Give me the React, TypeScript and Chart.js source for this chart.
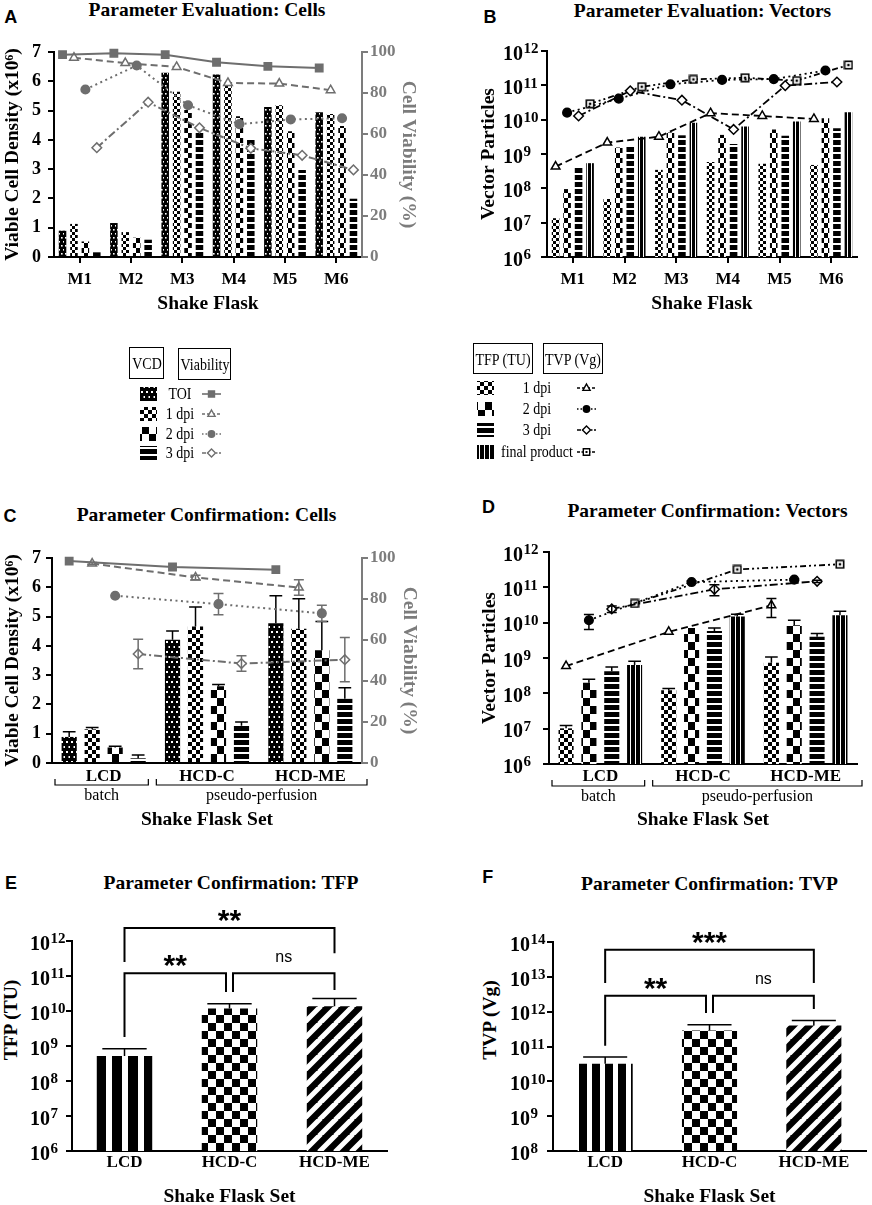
import React, { useEffect, useRef } from 'react';
import { Chart, registerables } from 'chart.js';

Chart.register(...registerables);

// ---------------- data ----------------
const FLASKS = ['M1', 'M2', 'M3', 'M4', 'M5', 'M6'];
const SETS = ['LCD', 'HCD-C', 'HCD-ME'];

// Panel A: VCD (x10^6) and viability (%)
const A_VCD_TOI = [0.9, 1.16, 6.29, 6.23, 5.12, 4.94];
const A_VCD_1DPI = [1.13, 0.85, 5.64, 5.95, 5.18, 4.88];
const A_VCD_2DPI = [0.53, 0.66, 5.02, 4.81, 4.29, 4.47];
const A_VCD_3DPI = [0.16, 0.59, 4.25, 4.0, 2.97, 1.99];
const A_VIA_TOI = [98.7, 99.4, 98.7, 95.0, 93.0, 92.2];
const A_VIA_1DPI = [97.2, 94.6, 92.7, 84.9, 84.6, 81.4];
const A_VIA_2DPI = [81.7, 93.4, 74.0, 64.8, 67.1, 67.7];
const A_VIA_3DPI = [53.3, 75.5, 63.0, 53.0, 49.6, 42.5];

// Panel B: TFP (TU) bars, TVP (Vg) lines
const B_TFP_1DPI = [1.35e7, 4.9e7, 3.45e8, 5.8e8, 5.2e8, 4.8e8];
const B_TFP_2DPI = [9.5e7, 1.55e9, 4.2e9, 3.6e9, 5.2e9, 1.1e10];
const B_TFP_3DPI = [3.9e8, 1.65e9, 3.5e9, 1.97e9, 3.4e9, 5.6e9];
const B_TFP_FINAL = [5.4e8, 3.2e9, 8.2e9, 6.3e9, 8.8e9, 1.65e10];
const B_TVP_1DPI = [4.3e8, 2.15e9, 3.2e9, 1.55e10, 1.28e10, 1.05e10];
const B_TVP_2DPI = [1.6e10, 4.1e10, 1.07e11, 1.44e11, 1.52e11, 2.7e11];
const B_TVP_3DPI = [1.28e10, 6.9e10, 3.7e10, 5.2e9, 9.8e10, 1.25e11];
const B_TVP_FINAL = [2.9e10, 9.1e10, 1.49e11, 1.66e11, 1.37e11, 3.9e11];

// Panel C: mean and SD
const C_VCD_TOI = [0.89, 4.21, 4.77];
const C_VCD_TOI_SD = [0.18, 0.3, 0.94];
const C_VCD_1DPI = [1.15, 4.66, 4.58];
const C_VCD_1DPI_SD = [0.06, 0.67, 1.03];
const C_VCD_2DPI = [0.53, 2.62, 3.85];
const C_VCD_2DPI_SD = [0.04, 0.06, 0.98];
const C_VCD_3DPI = [0.16, 1.27, 2.19];
const C_VCD_3DPI_SD = [0.11, 0.13, 0.38];
const C_VIA_TOI = [98.5, 95.6, 94.3];
const C_VIA_TOI_SD = [0, 0, 0];
const C_VIA_1DPI = [97.3, 90.5, 85.6];
const C_VIA_1DPI_SD = [0.5, 1.1, 3.8];
const C_VIA_2DPI = [81.6, 77.5, 73.0];
const C_VIA_2DPI_SD = [0, 5.2, 4.0];
const C_VIA_3DPI = [53.2, 48.5, 50.4];
const C_VIA_3DPI_SD = [7.2, 3.8, 10.8];

// Panel D: mean and SD
const D_TFP_1DPI = [1.02e7, 1.23e8, 7.3e8];
const D_TFP_1DPI_SD = [0.2e7, 0.14e8, 3.4e8];
const D_TFP_2DPI = [2.0e8, 7.1e9, 8.5e9];
const D_TFP_2DPI_SD = [0.5e8, 0, 3.2e9];
const D_TFP_3DPI = [4.2e8, 5.8e9, 4.0e9];
const D_TFP_3DPI_SD = [1.4e8, 1.3e9, 0.9e9];
const D_TFP_FINAL = [6.3e8, 1.5e10, 1.62e10];
const D_TFP_FINAL_SD = [1.8e8, 0.23e10, 0.48e10];
const D_TVP_1DPI = [5.9e8, 5.5e9, 3.1e10];
const D_TVP_1DPI_SD = [0, 0, 1.7e10];
const D_TVP_2DPI = [1.17e10, 1.41e11, 1.65e11];
const D_TVP_2DPI_SD = [0.53e10, 0.1e11, 0.1e11];
const D_TVP_3DPI = [2.45e10, 8.8e10, 1.48e11];
const D_TVP_3DPI_SD = [0.5e10, 3.0e10, 0.1e11];
const D_TVP_FINAL = [3.5e10, 3.2e11, 4.5e11];
const D_TVP_FINAL_SD = [0, 0, 0];

// Panels E and F
const E_TFP = [5.2e8, 1.17e10, 1.36e10];
const E_TFP_SD = [3.2e8, 0.45e10, 0.9e10];
const F_TVP = [3.2e10, 2.9e11, 4.0e11];
const F_TVP_SD = [1.8e10, 1.3e11, 1.6e11];

// tick exponents / ticks
const EXP_6_12 = [6, 7, 8, 9, 10, 11, 12];
const EXP_8_14 = [8, 9, 10, 11, 12, 13, 14];
const VCD_TICKS = [0, 1, 2, 3, 4, 5, 6, 7];
const VIA_TICKS = [0, 10, 20, 30, 40, 50, 60, 70, 80, 90, 100];

// group labels under C and D
const GROUPS = [
  { label: 'batch', from: 0, to: 0 },
  { label: 'pseudo-perfusion', from: 1, to: 2 },
];

// significance brackets (a, b = category indices; y values in axis units)
const E_SIG = [
  { a: 0, b: 2, y: 2.35e12, aEnd: 2.5e11, bEnd: 4.5e11, label: '**' },
  { a: 0, b: 1, y: 1.2e11, aEnd: 1.8e9, bEnd: 3.5e10, label: '**' },
  { a: 1, b: 2, y: 1.2e11, aEnd: 3.5e10, bEnd: 4.0e10, label: 'ns' },
];
const F_SIG = [
  { a: 0, b: 2, y: 6.0e13, aEnd: 6.7e12, bEnd: 6.7e12, label: '***' },
  { a: 0, b: 1, y: 2.85e12, aEnd: 1.05e11, bEnd: 9.2e11, label: '**' },
  { a: 1, b: 2, y: 2.85e12, aEnd: 9.2e11, bEnd: 1.2e12, label: 'ns' },
];

// ---------------- styles ----------------
const SERIF = '"Liberation Serif", "Times New Roman", Times, serif';
const SANS = '"Liberation Sans", Arial, Helvetica, sans-serif';
const BLACK = '#000000';
const GREY = '#6e6e6e';
const GREY_AXIS = '#7c7c7c';
const TITLE_SIZE = 19.5;
const TICK_SIZE = 17;
const CAT_PCT = 0.89;
const BAR_PCT = 0.66;

const fnt = (size: number, weight = 'bold', family = SERIF) => ({ family, size, weight, lineHeight: 1.2 });

// ---------------- patterns ----------------
function tile(w: number, h: number, draw: (g: CanvasRenderingContext2D) => void): CanvasPattern {
  const c = document.createElement('canvas');
  c.width = w;
  c.height = h;
  const g = c.getContext('2d')!;
  draw(g);
  return g.createPattern(c, 'repeat')!;
}
const dots = (w: number, h: number, d: number) =>
  tile(w, h * 2, (g) => {
    g.fillStyle = '#000';
    g.fillRect(0, 0, w, h * 2);
    g.fillStyle = '#fff';
    g.fillRect(1, 1, d, d);
    g.fillRect(1 + w / 2, 1 + h, d, d);
  });
const checker = (w: number, h: number) =>
  tile(w * 2, h * 2, (g) => {
    g.fillStyle = '#fff';
    g.fillRect(0, 0, w * 2, h * 2);
    g.fillStyle = '#000';
    g.fillRect(0, 0, w, h);
    g.fillRect(w, h, w, h);
  });
const hstripes = (period: number, black: number) =>
  tile(4, period, (g) => {
    g.fillStyle = '#fff';
    g.fillRect(0, 0, 4, period);
    g.fillStyle = '#000';
    g.fillRect(0, 0, 4, black);
  });
const vstripes = (period: number, black: number) =>
  tile(period, 4, (g) => {
    g.fillStyle = '#fff';
    g.fillRect(0, 0, period, 4);
    g.fillStyle = '#000';
    g.fillRect(0, 0, black, 4);
  });
const diag = (period: number, white: number) =>
  tile(period, period, (g) => {
    g.fillStyle = '#000';
    g.fillRect(0, 0, period, period);
    g.strokeStyle = '#fff';
    g.lineWidth = white;
    g.beginPath();
    for (const off of [-period, 0, period]) {
      g.moveTo(off - 1, period + 1);
      g.lineTo(off + period + 1, -1);
    }
    g.stroke();
  });

function smallPatterns() {
  return { toi: dots(4, 4, 1.6), d1: checker(3, 3), d2: checker(4, 5), d3: hstripes(7, 5), fin: vstripes(4, 3) };
}
function midPatterns() {
  return { toi: dots(5, 5, 2), d1: checker(4, 4), d2: checker(7, 8), d3: hstripes(7, 5), fin: vstripes(5, 4) };
}

function squareDotImage(size = 10, color = '#000') {
  const c = document.createElement('canvas');
  c.width = size;
  c.height = size;
  const g = c.getContext('2d')!;
  g.fillStyle = '#fff';
  g.fillRect(1, 1, size - 2, size - 2);
  g.strokeStyle = color;
  g.lineWidth = 1.6;
  g.strokeRect(1.3, 1.3, size - 2.6, size - 2.6);
  g.fillStyle = color;
  g.fillRect(size / 2 - 1.2, size / 2 - 1.2, 2.4, 2.4);
  return c;
}

// position of the k-th of K grouped bars on a linear axis aligned to the categories
const slotX = (i: number, k: number, K = 4) => i + (k - (K - 1) / 2) * (CAT_PCT / K);

// ---------------- plugins ----------------
const errorBars = {
  id: 'errorBars',
  afterDatasetDraw(chart: any, args: any) {
    const ds = chart.data.datasets[args.index];
    const errs: number[] | undefined = ds.errors;
    if (!errs) return;
    const meta = args.meta;
    const ys = chart.scales[meta.yAxisID];
    const ctx = chart.ctx;
    ctx.save();
    ctx.strokeStyle = ds.errorColor || '#000';
    ctx.lineWidth = 1.5;
    ctx.setLineDash([]);
    meta.data.forEach((el: any, i: number) => {
      const e = errs[i];
      if (!e) return;
      const raw = ds.data[i];
      const v = typeof raw === 'number' ? raw : raw && raw.y;
      if (v == null) return;
      const top = ys.getPixelForValue(v + e);
      const isLine = ds.type === 'line';
      const bottom = isLine ? ys.getPixelForValue(Math.max(v - e, 1e-9)) : el.y;
      const half = isLine ? ds.errorCap : el.width * ds.errorCap;
      ctx.beginPath();
      ctx.moveTo(el.x, bottom);
      ctx.lineTo(el.x, top);
      ctx.moveTo(el.x - half, top);
      ctx.lineTo(el.x + half, top);
      if (isLine) {
        ctx.moveTo(el.x - half, bottom);
        ctx.lineTo(el.x + half, bottom);
      }
      ctx.stroke();
    });
    ctx.restore();
  },
};

function powerTicksPlugin(axis: string, baseGap: number) {
  return {
    id: 'powerTicks',
    afterDraw(chart: any) {
      const s = chart.scales[axis];
      const ctx = chart.ctx;
      ctx.save();
      ctx.fillStyle = '#000';
      ctx.textBaseline = 'alphabetic';
      s.ticks.forEach((t: any) => {
        const y = s.getPixelForValue(t.value);
        const exp = String(Math.round(Math.log10(t.value)));
        const baseRight = s.right - baseGap;
        ctx.font = `bold 20px ${SERIF}`;
        ctx.textAlign = 'right';
        ctx.fillText('10', baseRight, y + 8.8);
        ctx.font = `bold 15px ${SERIF}`;
        ctx.textAlign = 'left';
        ctx.fillText(exp, baseRight + 0.5, y + 2.2);
      });
      ctx.restore();
    },
  };
}

function groupPlugin(groups: { label: string; from: number; to: number }[], ends: number[][]) {
  return {
    id: 'groupBrackets',
    afterDraw(chart: any) {
      const x = chart.scales.x;
      const ctx = chart.ctx;
      const bottom = chart.chartArea.bottom;
      const w = x.getPixelForValue(1) - x.getPixelForValue(0);
      ctx.save();
      ctx.strokeStyle = '#000';
      ctx.lineWidth = 1.2;
      ctx.fillStyle = '#000';
      ctx.font = `16px ${SERIF}`;
      ctx.textAlign = 'center';
      ctx.textBaseline = 'middle';
      groups.forEach((g, gi) => {
        const x0 = x.getPixelForValue(g.from) - w / 2 + ends[gi][0];
        const x1 = x.getPixelForValue(g.to) + w / 2 + ends[gi][1];
        const ly = bottom + 22;
        ctx.beginPath();
        ctx.moveTo(x0, ly - 6);
        ctx.lineTo(x0, ly);
        ctx.lineTo(x1, ly);
        ctx.lineTo(x1, ly - 6);
        ctx.stroke();
        ctx.fillText(g.label, (x0 + x1) / 2, bottom + 33);
      });
      ctx.restore();
    },
  };
}

function sigPlugin(brackets: any[]) {
  return {
    id: 'sigBrackets',
    afterDraw(chart: any) {
      const xs = chart.scales.x;
      const ys = chart.scales.y;
      const ctx = chart.ctx;
      ctx.save();
      ctx.strokeStyle = '#000';
      ctx.lineWidth = 2;
      ctx.fillStyle = '#000';
      ctx.textAlign = 'center';
      ctx.textBaseline = 'alphabetic';
      brackets.forEach((br) => {
        // legs meeting at the middle bar are nudged apart so the two brackets do not overlap
        const aGap = br.a === 1 ? 3.5 : 0;
        const bGap = br.b === 1 ? -3.5 : 0;
        const xa = xs.getPixelForValue(br.a) + aGap;
        const xb = xs.getPixelForValue(br.b) + bGap;
        const y = ys.getPixelForValue(br.y);
        ctx.beginPath();
        ctx.moveTo(xa, ys.getPixelForValue(br.aEnd));
        ctx.lineTo(xa, y);
        ctx.lineTo(xb, y);
        ctx.lineTo(xb, ys.getPixelForValue(br.bEnd));
        ctx.stroke();
        const cx = (xa + xb) / 2;
        if (br.label === 'ns') {
          ctx.font = `16px ${SANS}`;
          ctx.fillText('ns', cx, y - 11.5);
        } else {
          ctx.font = `bold 30px ${SANS}`;
          ctx.fillText(br.label, cx, y + 2);
        }
      });
      ctx.restore();
    },
  };
}

// ---------------- scale builders ----------------
type Geo = {
  left: number; top: number; width: number; height: number;
  l: number; r: number; t: number; b: number;
};

const tickGrid = (color: string, drawTicks = true) => ({
  drawOnChartArea: false,
  drawTicks,
  tickLength: 6,
  color,
  lineWidth: 2,
});

function xCategory(geo: Geo, labelCy: number, titleCy: number, title: string, drawTicks: boolean) {
  const tl = drawTicks ? 6 : 0;
  return {
    type: 'category',
    offset: true,
    grid: { ...tickGrid(BLACK, drawTicks), offset: false },
    border: { color: BLACK, width: 2 },
    ticks: {
      color: BLACK,
      font: fnt(TICK_SIZE),
      padding: labelCy - geo.b - tl - (TICK_SIZE * 1.2) / 2,
      maxRotation: 0,
      autoSkip: false,
    },
    title: {
      display: true,
      text: title,
      color: BLACK,
      font: fnt(TITLE_SIZE),
      padding: { top: 0, bottom: geo.top + geo.height - titleCy - (TITLE_SIZE * 1.2) / 2 },
    },
    afterFit: (s: any) => {
      s.height = geo.top + geo.height - geo.b;
    },
  };
}

function yLeftLinear(geo: Geo, max: number, ticks: number[], labelRight: number, title: string, titleCx: number) {
  return {
    type: 'linear',
    position: 'left',
    min: 0,
    max,
    afterBuildTicks: (s: any) => {
      s.ticks = ticks.map((v) => ({ value: v }));
    },
    grid: tickGrid(BLACK),
    border: { color: BLACK, width: 2 },
    ticks: { color: BLACK, font: fnt(18), padding: geo.l - 6 - labelRight },
    title: {
      display: true,
      text: title,
      color: BLACK,
      font: fnt(TITLE_SIZE),
      padding: { top: titleCx - geo.left - (TITLE_SIZE * 1.2) / 2, bottom: 0 },
    },
    afterFit: (s: any) => {
      s.width = geo.l - geo.left;
    },
  };
}

function yRightViability(geo: Geo, labelLeft: number, titleCx: number) {
  return {
    type: 'linear',
    position: 'right',
    min: 0,
    max: 100,
    afterBuildTicks: (s: any) => {
      s.ticks = VIA_TICKS.map((v) => ({ value: v }));
    },
    grid: tickGrid(GREY_AXIS),
    border: { color: GREY_AXIS, width: 2 },
    ticks: { color: GREY_AXIS, font: fnt(TICK_SIZE), padding: labelLeft - geo.r - 6 },
    title: {
      display: true,
      text: 'Cell Viability (%)',
      color: GREY_AXIS,
      font: fnt(TITLE_SIZE),
      padding: { top: geo.left + geo.width - titleCx - (TITLE_SIZE * 1.2) / 2, bottom: 0 },
    },
    afterFit: (s: any) => {
      s.width = geo.left + geo.width - geo.r;
    },
  };
}

function yLog(geo: Geo, exps: number[], title: string | null, titleCx: number) {
  return {
    type: 'logarithmic',
    position: 'left',
    min: Math.pow(10, exps[0]),
    max: Math.pow(10, exps[exps.length - 1]),
    afterBuildTicks: (s: any) => {
      s.ticks = exps.map((e) => ({ value: Math.pow(10, e) }));
    },
    grid: tickGrid(BLACK),
    border: { color: BLACK, width: 2 },
    ticks: { callback: () => '', padding: 0 },
    title: {
      display: title != null,
      text: title || '',
      color: BLACK,
      font: fnt(TITLE_SIZE),
      padding: { top: titleCx - geo.left - (TITLE_SIZE * 1.2) / 2, bottom: 0 },
    },
    afterFit: (s: any) => {
      s.width = geo.l - geo.left;
    },
  };
}

const commonOpts = {
  responsive: false,
  maintainAspectRatio: false,
  animation: false,
  events: [],
  plugins: { legend: { display: false }, tooltip: { enabled: false }, title: { display: false } },
};

function barOptions(geo: Geo, rightBox: boolean) {
  return {
    ...commonOpts,
    layout: {
      padding: { top: geo.t - geo.top, left: 0, right: rightBox ? 0 : geo.left + geo.width - geo.r, bottom: 0 },
    },
  };
}

const barDs = (label: string, data: number[], bg: any, extra: any = {}) => ({
  type: 'bar',
  label,
  data,
  backgroundColor: bg,
  borderWidth: 0,
  categoryPercentage: CAT_PCT,
  barPercentage: BAR_PCT,
  errorCap: 0.42,
  ...extra,
});

const lineDs = (label: string, values: number[], k: number, color: string, style: any, extra: any = {}) => ({
  type: 'line',
  label,
  data: values.map((v, i) => ({ x: slotX(i, k), y: v })),
  clip: false,
  borderColor: color,
  borderWidth: 2,
  pointBorderColor: color,
  pointBorderWidth: 1.5,
  fill: false,
  tension: 0,
  errorColor: color,
  errorCap: 5,
  ...style,
  ...extra,
});

// overlay chart holding the line series: its plot area is exactly the bar chart's plot area
function lineOverlay(geo: Geo, n: number, yScale: any, datasets: any[]) {
  return {
    type: 'line',
    data: { datasets },
    options: {
      ...commonOpts,
      layout: {
        padding: {
          top: geo.t - geo.top,
          left: geo.l - geo.left,
          right: geo.left + geo.width - geo.r,
          bottom: geo.top + geo.height - geo.b,
        },
      },
      scales: {
        x: { type: 'linear', display: false, offset: false, min: -0.5, max: n - 0.5 },
        y: { display: false, ...yScale },
      },
    },
    plugins: [errorBars],
  };
}

const styleTOI = (c: string) => ({ borderDash: [], pointStyle: 'rect', pointRadius: 5.2, pointBackgroundColor: c });
const style1 = (c: string) => ({ borderDash: [7, 4], pointStyle: 'triangle', pointRadius: 5, pointBackgroundColor: '#fff' });
const style2 = (c: string) => ({ borderDash: [2, 3.5], pointStyle: 'circle', pointRadius: 4.3, pointBackgroundColor: c });
const style3 = (c: string) => ({ borderDash: [8, 3, 2, 3], pointStyle: 'rectRot', pointRadius: 4.8, pointBackgroundColor: '#fff' });
const styleFin = () => ({ borderDash: [6, 3, 2, 3, 2, 3], pointStyle: squareDotImage(10), pointRadius: 5 });

// ---------------- panel geometry ----------------
const GEO_A: Geo = { left: 0, top: 28, width: 436, height: 292, l: 54, r: 362, t: 52, b: 257 };
const GEO_B: Geo = { left: 436, top: 28, width: 436, height: 292, l: 547, r: 857, t: 51, b: 257 };
const GEO_C: Geo = { left: 0, top: 530, width: 436, height: 310, l: 52, r: 362, t: 558, b: 763 };
const GEO_D: Geo = { left: 436, top: 530, width: 436, height: 310, l: 549, r: 857, t: 552, b: 764 };
const GEO_E: Geo = { left: 0, top: 895, width: 436, height: 317, l: 72, r: 387, t: 941, b: 1151 };
const GEO_F: Geo = { left: 436, top: 895, width: 436, height: 317, l: 553, r: 866, t: 942, b: 1151 };

function buildA() {
  const P = smallPatterns();
  const geo = GEO_A;
  return {
    type: 'bar',
    data: {
      labels: FLASKS,
      datasets: [
        barDs('TOI', A_VCD_TOI, P.toi),
        barDs('1 dpi', A_VCD_1DPI, P.d1),
        barDs('2 dpi', A_VCD_2DPI, P.d2),
        barDs('3 dpi', A_VCD_3DPI, P.d3),
      ],
    },
    options: {
      ...barOptions(geo, true),
      scales: {
        x: xCategory(geo, 280, 304, 'Shake Flask', true),
        y: yLeftLinear(geo, 7, VCD_TICKS, 41, 'Viable Cell Density (x10\u2076)', 13),
        y2: yRightViability(geo, 370, 408),
      },
    },
    plugins: [errorBars],
  };
}
const buildAL = () =>
  lineOverlay(GEO_A, FLASKS.length, { type: 'linear', min: 0, max: 100 }, [
    lineDs('TOI', A_VIA_TOI, 0, GREY, styleTOI(GREY)),
    lineDs('1 dpi', A_VIA_1DPI, 1, GREY, style1(GREY)),
    lineDs('2 dpi', A_VIA_2DPI, 2, GREY, style2(GREY)),
    lineDs('3 dpi', A_VIA_3DPI, 3, GREY, style3(GREY)),
  ]);

function buildB() {
  const P = smallPatterns();
  const geo = GEO_B;
  return {
    type: 'bar',
    data: {
      labels: FLASKS,
      datasets: [
        barDs('1 dpi', B_TFP_1DPI, P.d1),
        barDs('2 dpi', B_TFP_2DPI, P.d2),
        barDs('3 dpi', B_TFP_3DPI, P.d3),
        barDs('final product', B_TFP_FINAL, P.fin),
      ],
    },
    options: {
      ...barOptions(geo, false),
      scales: {
        x: xCategory(geo, 280, 304, 'Shake Flask', true),
        y: yLog(geo, EXP_6_12, 'Vector Particles', 489),
      },
    },
    plugins: [errorBars, powerTicksPlugin('y', 24)],
  };
}
const buildBL = () =>
  lineOverlay(GEO_B, FLASKS.length, { type: 'logarithmic', min: 1e6, max: 1e12 }, [
    lineDs('1 dpi', B_TVP_1DPI, 0, BLACK, style1(BLACK), { borderWidth: 1.8 }),
    lineDs('2 dpi', B_TVP_2DPI, 1, BLACK, style2(BLACK), { borderWidth: 1.8 }),
    lineDs('3 dpi', B_TVP_3DPI, 2, BLACK, style3(BLACK), { borderWidth: 1.8 }),
    lineDs('final product', B_TVP_FINAL, 3, BLACK, styleFin(), { borderWidth: 1.8 }),
  ]);

function buildC() {
  const P = midPatterns();
  const geo = GEO_C;
  return {
    type: 'bar',
    data: {
      labels: SETS,
      datasets: [
        barDs('TOI', C_VCD_TOI, P.toi, { errors: C_VCD_TOI_SD }),
        barDs('1 dpi', C_VCD_1DPI, P.d1, { errors: C_VCD_1DPI_SD }),
        barDs('2 dpi', C_VCD_2DPI, P.d2, { errors: C_VCD_2DPI_SD }),
        barDs('3 dpi', C_VCD_3DPI, P.d3, { errors: C_VCD_3DPI_SD }),
      ],
    },
    options: {
      ...barOptions(geo, true),
      scales: {
        x: xCategory(geo, 777, 820, 'Shake Flask Set', false),
        y: yLeftLinear(geo, 7, VCD_TICKS, 41, 'Viable Cell Density (x10\u2076)', 12.5),
        y2: yRightViability(geo, 370, 409.5),
      },
    },
    plugins: [errorBars, groupPlugin(GROUPS, [[3, -7], [1, 5]])],
  };
}
const buildCL = () =>
  lineOverlay(GEO_C, SETS.length, { type: 'linear', min: 0, max: 100 }, [
    lineDs('TOI', C_VIA_TOI, 0, GREY, styleTOI(GREY), { errors: C_VIA_TOI_SD }),
    lineDs('1 dpi', C_VIA_1DPI, 1, GREY, style1(GREY), { errors: C_VIA_1DPI_SD }),
    lineDs('2 dpi', C_VIA_2DPI, 2, GREY, style2(GREY), { errors: C_VIA_2DPI_SD }),
    lineDs('3 dpi', C_VIA_3DPI, 3, GREY, style3(GREY), { errors: C_VIA_3DPI_SD }),
  ]);

function buildD() {
  const P = midPatterns();
  const geo = GEO_D;
  return {
    type: 'bar',
    data: {
      labels: SETS,
      datasets: [
        barDs('1 dpi', D_TFP_1DPI, P.d1, { errors: D_TFP_1DPI_SD }),
        barDs('2 dpi', D_TFP_2DPI, P.d2, { errors: D_TFP_2DPI_SD }),
        barDs('3 dpi', D_TFP_3DPI, P.d3, { errors: D_TFP_3DPI_SD }),
        barDs('final product', D_TFP_FINAL, P.fin, { errors: D_TFP_FINAL_SD }),
      ],
    },
    options: {
      ...barOptions(geo, false),
      scales: {
        x: xCategory(geo, 777, 820, 'Shake Flask Set', false),
        y: yLog(geo, EXP_6_12, 'Vector Particles', 489.5),
      },
    },
    plugins: [errorBars, powerTicksPlugin('y', 26), groupPlugin(GROUPS, [[3, -7], [1, 5]])],
  };
}
const buildDL = () =>
  lineOverlay(GEO_D, SETS.length, { type: 'logarithmic', min: 1e6, max: 1e12 }, [
    lineDs('1 dpi', D_TVP_1DPI, 0, BLACK, style1(BLACK), { errors: D_TVP_1DPI_SD, borderWidth: 1.8 }),
    lineDs('2 dpi', D_TVP_2DPI, 1, BLACK, style2(BLACK), { errors: D_TVP_2DPI_SD, borderWidth: 1.8 }),
    lineDs('3 dpi', D_TVP_3DPI, 2, BLACK, style3(BLACK), { errors: D_TVP_3DPI_SD, borderWidth: 1.8 }),
    lineDs('final product', D_TVP_FINAL, 3, BLACK, styleFin(), { errors: D_TVP_FINAL_SD, borderWidth: 1.8 }),
  ]);

function buildSingle(geo: Geo, values: number[], sd: number[], exps: number[], sig: any[], stripe: number[], baseGap: number) {
  const bgs = [vstripes(stripe[0], stripe[1]), checker(8, 8), diag(16, 5)];
  return {
    type: 'bar',
    data: {
      labels: SETS,
      datasets: [
        {
          type: 'bar',
          label: 'mean',
          data: values,
          backgroundColor: bgs,
          borderWidth: 0,
          categoryPercentage: 0.8,
          barPercentage: 0.66,
          errors: sd,
          errorCap: 0.4,
        },
      ],
    },
    options: {
      ...barOptions(geo, false),
      scales: {
        x: xCategory(geo, 1163, 1197, 'Shake Flask Set', false),
        y: yLog(geo, exps, null, 0),
      },
    },
    plugins: [errorBars, powerTicksPlugin('y', baseGap), sigPlugin(sig)],
  };
}

const buildE = () => buildSingle(GEO_E, E_TFP, E_TFP_SD, EXP_6_12, E_SIG, [16, 10], 22);
const buildF = () => buildSingle(GEO_F, F_TVP, F_TVP_SD, EXP_8_14, F_SIG, [13, 8], 23);

// ---------------- components ----------------
function ChartCanvas({ geo, build }: { geo: Geo; build: () => any }) {
  const ref = useRef<HTMLCanvasElement>(null);
  useEffect(() => {
    const chart = new Chart(ref.current as HTMLCanvasElement, build());
    return () => chart.destroy();
  }, []);
  return (
    <canvas
      ref={ref}
      width={geo.width}
      height={geo.height}
      style={{ position: 'absolute', left: geo.left, top: geo.top, width: geo.width, height: geo.height }}
    />
  );
}

function Txt(props: {
  x: number; y: number; children: any; size: number; bold?: boolean; family?: string;
  color?: string; rot?: number; sx?: number;
}) {
  const { x, y, children, size, bold = false, family = SERIF, color = '#000', rot = 0, sx = 1 } = props;
  return (
    <div
      style={{
        position: 'absolute',
        left: x,
        top: y,
        transform: `translate(-50%, -50%) rotate(${rot}deg) scaleX(${sx})`,
        fontFamily: family,
        fontSize: size,
        fontWeight: bold ? 'bold' : 'normal',
        color,
        lineHeight: 1,
        whiteSpace: 'nowrap',
      }}
    >
      {children}
    </div>
  );
}

function Box({ x0, x1, y0, y1, text }: { x0: number; x1: number; y0: number; y1: number; text: string }) {
  return (
    <>
      <div
        style={{
          position: 'absolute',
          left: x0,
          top: y0,
          width: x1 - x0,
          height: y1 - y0,
          border: '1.3px solid #000',
          boxSizing: 'border-box',
        }}
      />
      <Txt x={(x0 + x1) / 2} y={(y0 + y1) / 2 + 1} size={17.5} sx={0.8}>
        {text}
      </Txt>
    </>
  );
}

const LEG_LEFT_ROWS = [
  { label: 'TOI', y: 394, pat: 'toi', style: 'rect', dash: [] as number[] },
  { label: '1 dpi', y: 414, pat: 'd1', style: 'triangle', dash: [3, 2] },
  { label: '2 dpi', y: 434, pat: 'd2', style: 'circle', dash: [1.5, 2] },
  { label: '3 dpi', y: 453, pat: 'd3', style: 'rectRot', dash: [4, 1.5, 1.5, 1.5] },
];
const LEG_RIGHT_ROWS = [
  { label: '1 dpi', y: 388, pat: 'd1', style: 'triangle', dash: [3, 2] },
  { label: '2 dpi', y: 409, pat: 'd2', style: 'circle', dash: [1.5, 2] },
  { label: '3 dpi', y: 430, pat: 'd3', style: 'rectRot', dash: [4, 1.5, 1.5, 1.5] },
  { label: 'final product', y: 452, pat: 'fin', style: 'squareDot', dash: [3, 1.5, 1.5, 1.5] },
];

function drawMarker(g: CanvasRenderingContext2D, style: string, x: number, y: number, r: number, color: string) {
  g.save();
  g.setLineDash([]);
  g.strokeStyle = color;
  g.lineWidth = 1.4;
  g.beginPath();
  let fill = '#fff';
  if (style === 'rect') {
    const s = r * 0.75;
    g.rect(x - s, y - s, 2 * s, 2 * s);
    fill = color;
  } else if (style === 'triangle') {
    g.moveTo(x, y - r);
    g.lineTo(x + r * 0.9, y + r * 0.6);
    g.lineTo(x - r * 0.9, y + r * 0.6);
    g.closePath();
  } else if (style === 'circle') {
    g.arc(x, y, r * 0.8, 0, Math.PI * 2);
    fill = color;
  } else if (style === 'rectRot') {
    g.moveTo(x, y - r);
    g.lineTo(x + r, y);
    g.lineTo(x, y + r);
    g.lineTo(x - r, y);
    g.closePath();
  } else {
    g.rect(x - r * 0.8, y - r * 0.8, r * 1.6, r * 1.6);
  }
  g.fillStyle = fill;
  g.fill();
  g.stroke();
  if (style === 'squareDot') {
    g.fillStyle = color;
    g.fillRect(x - 1, y - 1, 2, 2);
  }
  g.restore();
}

const LEG_ORIGIN = { x: 100, y: 330, w: 520, h: 140 };

function LegendCanvas() {
  const ref = useRef<HTMLCanvasElement>(null);
  useEffect(() => {
    const c = ref.current as HTMLCanvasElement;
    const g = c.getContext('2d')!;
    g.clearRect(0, 0, c.width, c.height);
    const P: any = midPatterns();
    const ox = LEG_ORIGIN.x;
    const oy = LEG_ORIGIN.y;
    const rows = [
      { list: LEG_LEFT_ROWS, sw: 140, sy: 202, color: GREY },
      { list: LEG_RIGHT_ROWS, sw: 477, sy: 577, color: BLACK },
    ];
    rows.forEach(({ list, sw, sy, color }) => {
      list.forEach((row) => {
        g.fillStyle = P[row.pat];
        g.fillRect(sw - ox, row.y - 7 - oy, 17, 14);
        g.save();
        g.strokeStyle = color;
        g.lineWidth = 1.6;
        g.setLineDash(row.dash);
        g.beginPath();
        g.moveTo(sy - ox, row.y - oy);
        g.lineTo(sy + 19 - ox, row.y - oy);
        g.stroke();
        g.restore();
        drawMarker(g, row.style, sy + 9.5 - ox, row.y - oy, 4, color);
      });
    });
  }, []);
  return (
    <canvas
      ref={ref}
      width={LEG_ORIGIN.w}
      height={LEG_ORIGIN.h}
      style={{ position: 'absolute', left: LEG_ORIGIN.x, top: LEG_ORIGIN.y, width: LEG_ORIGIN.w, height: LEG_ORIGIN.h }}
    />
  );
}

export default function App() {
  return (
    <div
      style={{
        position: 'absolute',
        left: 0,
        top: 0,
        width: 872,
        height: 1205,
        overflow: 'hidden',
        background: '#fff',
      }}
    >
      {/* panel letters */}
      <Txt x={10.8} y={17} size={18} bold family={SANS}>A</Txt>
      <Txt x={490} y={17} size={18} bold family={SANS}>B</Txt>
      <Txt x={10} y={515.5} size={18} bold family={SANS}>C</Txt>
      <Txt x={488.5} y={507} size={18} bold family={SANS}>D</Txt>
      <Txt x={11} y={882.5} size={18} bold family={SANS}>E</Txt>
      <Txt x={487.7} y={876.7} size={18} bold family={SANS}>F</Txt>

      {/* panel titles */}
      <Txt x={207} y={10} size={TITLE_SIZE} bold>Parameter Evaluation: Cells</Txt>
      <Txt x={702.5} y={10.5} size={TITLE_SIZE} bold>Parameter Evaluation: Vectors</Txt>
      <Txt x={206.5} y={515} size={TITLE_SIZE} bold>Parameter Confirmation: Cells</Txt>
      <Txt x={707.5} y={511} size={TITLE_SIZE} bold>Parameter Confirmation: Vectors</Txt>
      <Txt x={231} y={883} size={TITLE_SIZE} bold>Parameter Confirmation: TFP</Txt>
      <Txt x={709.5} y={884} size={TITLE_SIZE} bold>Parameter Confirmation: TVP</Txt>

      {/* y titles of E and F */}
      <Txt x={11} y={1020} size={TITLE_SIZE} bold rot={-90}>TFP (TU)</Txt>
      <Txt x={490} y={1020} size={TITLE_SIZE} bold rot={-90}>TVP (Vg)</Txt>

      <ChartCanvas geo={GEO_A} build={buildA} />
      <ChartCanvas geo={GEO_A} build={buildAL} />
      <ChartCanvas geo={GEO_B} build={buildB} />
      <ChartCanvas geo={GEO_B} build={buildBL} />
      <ChartCanvas geo={GEO_C} build={buildC} />
      <ChartCanvas geo={GEO_C} build={buildCL} />
      <ChartCanvas geo={GEO_D} build={buildD} />
      <ChartCanvas geo={GEO_D} build={buildDL} />
      <ChartCanvas geo={GEO_E} build={buildE} />
      <ChartCanvas geo={GEO_F} build={buildF} />

      {/* legends */}
      <LegendCanvas />
      <Box x0={129} x1={164} y0={347} y1={379} text="VCD" />
      <Box x0={178} x1={231} y0={348} y1={380} text="Viability" />
      {LEG_LEFT_ROWS.map((r) => (
        <Txt key={'l' + r.label} x={179.5} y={r.y} size={17.5} sx={0.8}>
          {r.label}
        </Txt>
      ))}
      <Box x0={473} x1={533} y0={343} y1={374} text="TFP (TU)" />
      <Box x0={543} x1={603} y0={343} y1={374} text="TVP (Vg)" />
      {LEG_RIGHT_ROWS.map((r) => (
        <Txt key={'r' + r.label} x={537} y={r.y} size={17.5} sx={0.8}>
          {r.label}
        </Txt>
      ))}
    </div>
  );
}
